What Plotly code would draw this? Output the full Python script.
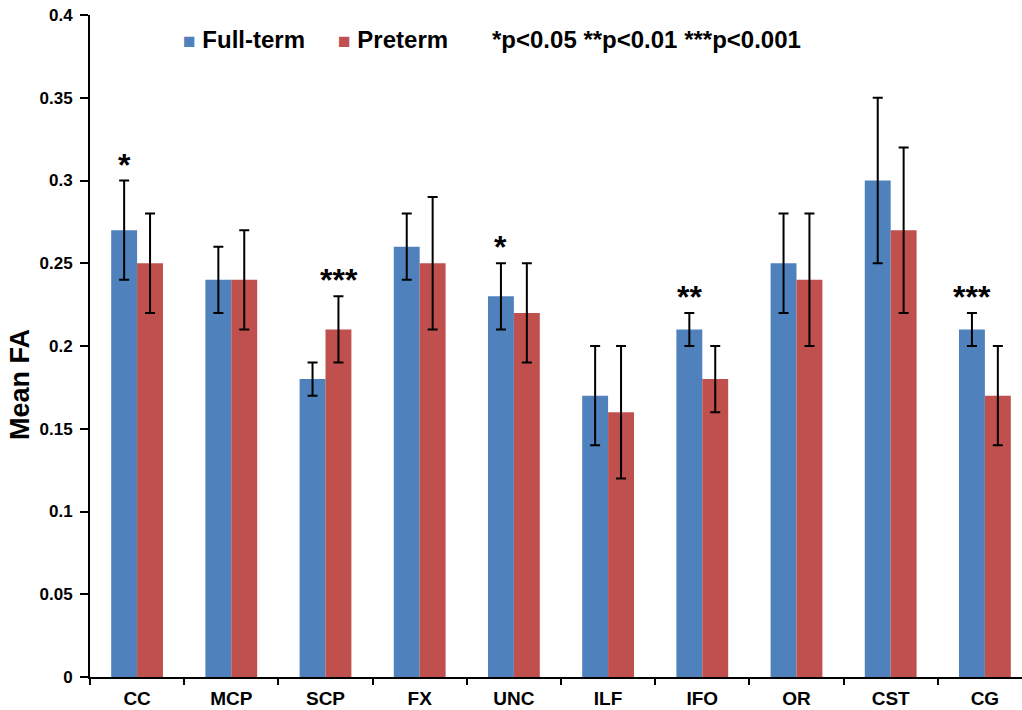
import plotly.graph_objects as go

categories = ["CC", "MCP", "SCP", "FX", "UNC", "ILF", "IFO", "OR", "CST", "CG"]
full_term = [0.27, 0.24, 0.18, 0.26, 0.23, 0.17, 0.21, 0.25, 0.30, 0.21]
full_term_err = [0.03, 0.02, 0.01, 0.02, 0.02, 0.03, 0.01, 0.03, 0.05, 0.01]
preterm = [0.25, 0.24, 0.21, 0.25, 0.22, 0.16, 0.18, 0.24, 0.27, 0.17]
preterm_err = [0.03, 0.03, 0.02, 0.04, 0.03, 0.04, 0.02, 0.04, 0.05, 0.03]
# significance marker: (category, group, label)
significance = [("CC", "full", "*"), ("SCP", "pre", "***"), ("UNC", "full", "*"),
                ("IFO", "full", "**"), ("CG", "full", "***")]
y_ticks = [0, 0.05, 0.1, 0.15, 0.2, 0.25, 0.3, 0.35, 0.4]
y_tick_labels = ["0", "0.05", "0.1", "0.15", "0.2", "0.25", "0.3", "0.35", "0.4"]
series_names = ["Full-term", "Preterm"]
p_note = "*p<0.05 **p<0.01 ***p<0.001"

BLUE = "#4F81BD"
RED = "#C0504D"
FONT = "Liberation Sans, Arial, sans-serif"

W, H = 1022, 710
plot_left, plot_right, plot_top, plot_bottom = 90, 1022, 15, 677


def px_x(px):
    return (px - plot_left) / (plot_right - plot_left)


def px_y(py):
    return (plot_bottom - py) / (plot_bottom - plot_top)


fig = go.Figure()
fig.add_trace(go.Bar(
    x=categories, y=full_term, name=series_names[0], marker=dict(color=BLUE, line=dict(width=0)),
    error_y=dict(type="data", array=full_term_err, color="black", thickness=2, width=5),
    showlegend=False,
))
fig.add_trace(go.Bar(
    x=categories, y=preterm, name=series_names[1], marker=dict(color=RED, line=dict(width=0)),
    error_y=dict(type="data", array=preterm_err, color="black", thickness=2, width=5),
    showlegend=False,
))

bar_w = 0.276
for cat, grp, lab in significance:
    i = categories.index(cat)
    if grp == "full":
        xc = i - bar_w / 2
        top = full_term[i] + full_term_err[i]
    else:
        xc = i + bar_w / 2
        top = preterm[i] + preterm_err[i]
    fig.add_annotation(x=xc, y=top, text=lab, showarrow=False, xref="x", yref="y",
                       yanchor="middle", yshift=16,
                       font=dict(family=FONT, size=32, color="black", weight="bold"))

# legend (drawn as text so the swatch/label spacing matches the original)
for name, col, left in [(series_names[0], BLUE, 181), (series_names[1], RED, 336)]:
    fig.add_annotation(
        x=px_x(left), y=px_y(40), xref="paper", yref="paper", xanchor="left", yanchor="middle",
        text=f"<span style='font-size:21px;color:{col}'>■</span> {name}", showarrow=False,
        font=dict(family=FONT, size=24, color="black", weight="bold"))

fig.add_annotation(x=px_x(490), y=px_y(39), xref="paper", yref="paper", text=p_note,
                   showarrow=False, xanchor="left", yanchor="middle",
                   font=dict(family=FONT, size=24, color="black", weight="bold"))

# y-axis title
fig.add_annotation(x=px_x(20), y=px_y(385), xref="paper", yref="paper", text="Mean FA",
                   showarrow=False, textangle=-90, xanchor="center", yanchor="middle",
                   font=dict(family=FONT, size=27, color="black", weight="bold"))

fig.update_layout(
    width=W, height=H,
    margin=dict(l=plot_left, r=W - plot_right, t=plot_top, b=H - plot_bottom, autoexpand=False),
    paper_bgcolor="white", plot_bgcolor="white",
    barmode="group", bargap=0.45, bargroupgap=0,
    font=dict(family=FONT, color="black", weight="bold"),
    showlegend=False,
    xaxis=dict(range=[-0.5, 9.394], showline=True, linecolor="black", linewidth=2,
               ticks="outside", tickson="boundaries", ticklen=6, tickwidth=1.5, tickcolor="black",
               tickfont=dict(family=FONT, size=19, color="black", weight="bold"),
               ticklabelstandoff=3,
               showgrid=False, zeroline=False, automargin=False),
    yaxis=dict(range=[0, 0.4], tickvals=y_ticks, ticktext=y_tick_labels,
               showline=True, linecolor="black", linewidth=2,
               ticks="outside", ticklen=8, tickwidth=1.5, tickcolor="black",
               tickfont=dict(family=FONT, size=17, color="black", weight="bold"),
               ticklabelstandoff=4,
               showgrid=False, zeroline=False, automargin=False),
)

fig.write_html("out.html", config={"displayModeBar": False},
               post_script="document.body.style.margin='0';document.body.style.overflow='hidden';")
